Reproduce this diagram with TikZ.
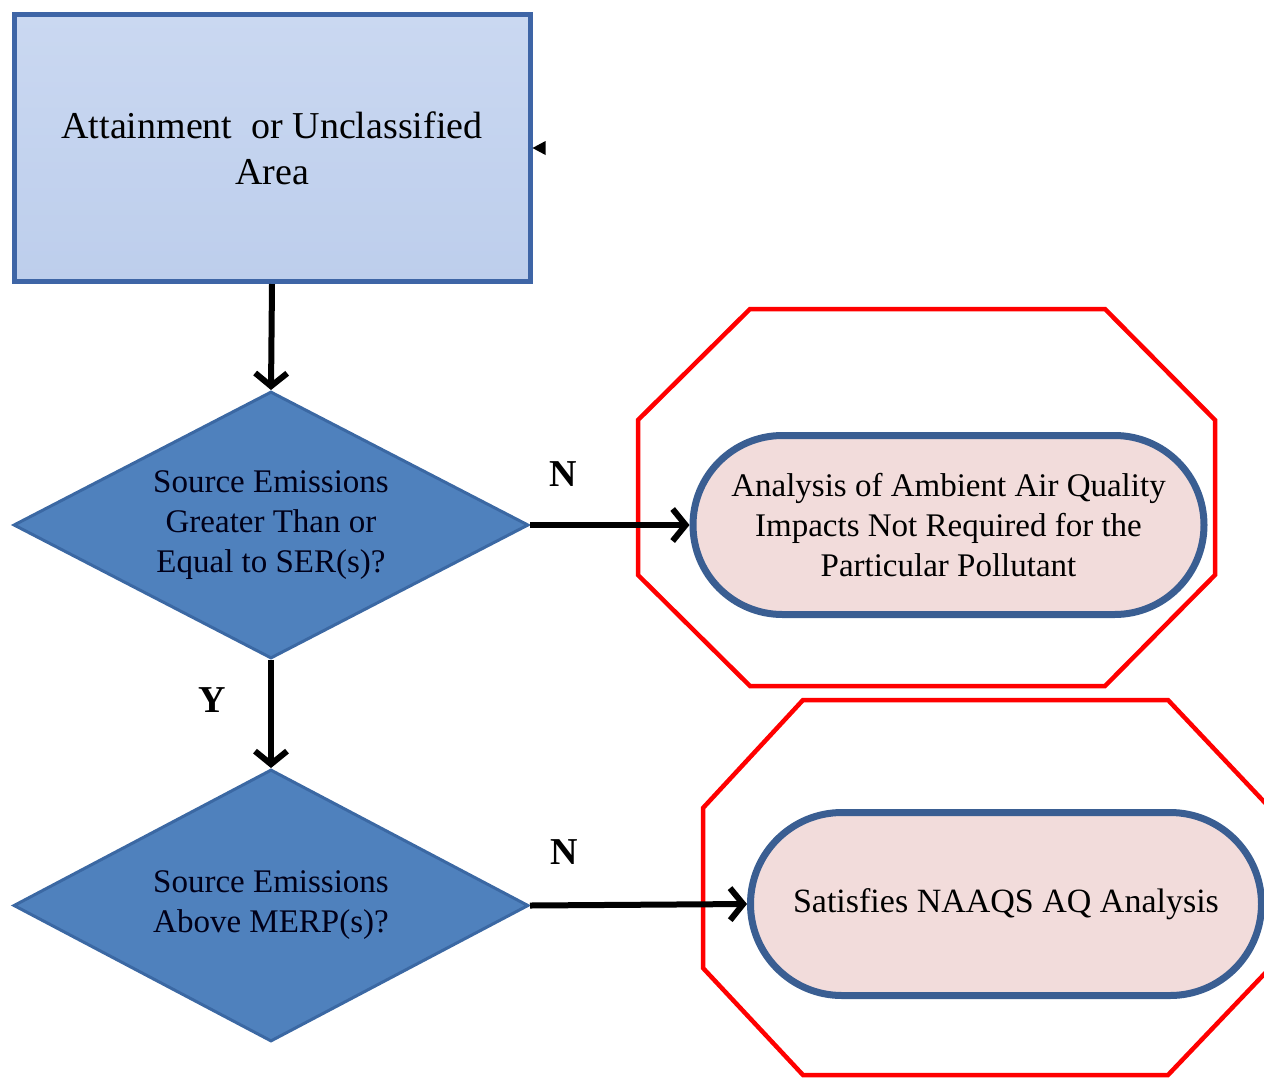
\documentclass[tikz,border=0pt]{standalone}
\usepackage{fontspec}
\setmainfont{Liberation Serif}
\usetikzlibrary{shapes.geometric,shapes.misc,arrows.meta}
\definecolor{boxtop}{HTML}{CAD8F1}
\definecolor{boxbot}{HTML}{BDCEEC}
\definecolor{boxline}{HTML}{3E65A6}
\definecolor{decfill}{HTML}{4F81BD}
\definecolor{decline}{HTML}{3B68A3}
\definecolor{endfill}{HTML}{F2DCDB}
\definecolor{endline}{HTML}{3A5E92}
\definecolor{hilite}{HTML}{FF0000}
\begin{document}
\begin{tikzpicture}[x=1pt,y=-1pt,
  areabox/.style={draw=boxline, line width=5pt, top color=boxtop, bottom color=boxbot,
    minimum width=516pt, minimum height=267pt, inner sep=0pt, align=center,
    font=\fontsize{38}{46}\selectfont},
  decision/.style={diamond, draw=decline, line width=3pt, fill=decfill, aspect=1.92,
    minimum width=515pt, inner sep=0pt, align=center, text=black!90!blue,
    font=\fontsize{33}{40}\selectfont},
  outcome/.style={rounded rectangle, draw=endline, line width=7pt, fill=endfill,
    minimum width=511pt, minimum height=179pt, inner sep=0pt, align=center,
    font=\fontsize{33}{40}\selectfont},
  flow/.style={line width=6pt, -{Straight Barb[length=13pt,width=32pt,line width=6pt]}},
  branch/.style={font=\bfseries\fontsize{38}{38}\selectfont},
  zone/.style={draw=hilite, line width=4.5pt, line join=miter}]

  \path[use as bounding box] (0,0) rectangle (1264,1077);
  \clip (0,0) rectangle (1264,1077);

  % red outlines around the two outcomes
  \draw[zone] (750,309) -- (1105,309) -- (1215,420) -- (1215,575) -- (1105,686)
    -- (750,686) -- (638,575) -- (638,420) -- cycle;
  \draw[zone] (803,700) -- (1168,700) -- (1270,808) -- (1270,968) -- (1168,1075)
    -- (803,1075) -- (703,968) -- (703,808) -- cycle;

  % process steps
  \node[areabox] (area) at (272,148) {Attainment~ or Unclassified\\Area};
  \node[decision, minimum height=267pt] (ser) at (271,525)
    {Source Emissions\\Greater Than or\\Equal to SER(s)?};
  \node[decision, minimum height=272pt] (merp) at (271,905.5)
    {Source Emissions\\Above MERP(s)?};
  \node[outcome] (notreq) at (948.5,525)
    {Analysis of Ambient Air Quality\\Impacts Not Required for the\\Particular Pollutant};
  \node[outcome, minimum height=183pt, font=\fontsize{34}{40}\selectfont] (naaqs) at (1006,904)
    {Satisfies NAAQS AQ Analysis};

  % connectors
  \draw[flow] (area.south) -- (ser.north);
  \draw[flow] (ser.south) -- (merp.north);
  \draw[flow] (ser.east) -- (notreq.west);
  \draw[flow] (merp.east) -- (naaqs.west);

  % small incoming tip on the right side of the first box
  \fill (area.east) ++(0,0) -- ++(13,-7) -- ++(0,14) -- cycle;

  % branch labels
  \node[branch] (nlabA) at (563,474) {N};
  \node[branch] (nlabB) at (564,852) {N};
  \node[branch] (ylab) at (212,700) {Y};
\end{tikzpicture}
\end{document}
